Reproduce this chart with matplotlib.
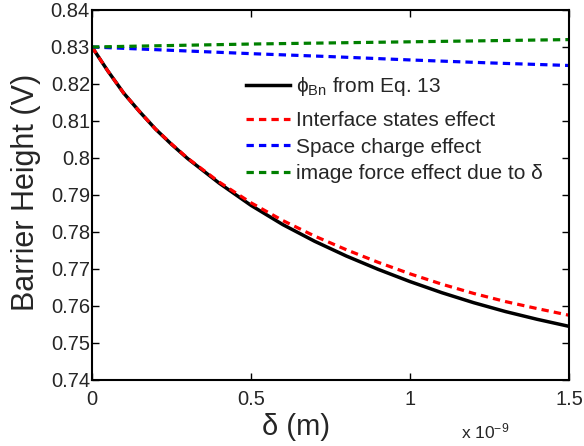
import numpy as np
import matplotlib
matplotlib.use("Agg")
import matplotlib.pyplot as plt

plt.rcParams["font.family"] = ["Liberation Sans", "DejaVu Sans"]
plt.rcParams["mathtext.fontset"] = "custom"
plt.rcParams["mathtext.rm"] = "Liberation Sans"
plt.rcParams["mathtext.it"] = "Liberation Sans:italic"

# oxide thickness in units of 1e-9 m
delta_fine = [0.0, 0.05, 0.1, 0.15, 0.2, 0.25, 0.3, 0.4, 0.5, 0.6, 0.7,
              0.8, 0.9, 1.0, 1.1, 1.2, 1.3, 1.4, 1.5]
phi_eq13 = [0.8300, 0.8235, 0.8175, 0.8125, 0.8078, 0.8037, 0.7999, 0.7932,
            0.7872, 0.7820, 0.7775, 0.7735, 0.7699, 0.7666, 0.7636, 0.7609,
            0.7585, 0.7564, 0.7545]
phi_interface = [0.8300, 0.8235, 0.8175, 0.8125, 0.8078, 0.8038, 0.8000,
                 0.7935, 0.7879, 0.7831, 0.7789, 0.7752, 0.7718, 0.7687,
                 0.7659, 0.7634, 0.7612, 0.7593, 0.7575]

delta_coarse = [0.0, 0.25, 0.5, 0.75, 1.0, 1.25, 1.5]
phi_space = [0.8300, 0.8291, 0.8282, 0.8274, 0.8265, 0.8257, 0.8250]
phi_image = [0.8300, 0.8304, 0.8308, 0.8311, 0.8314, 0.8317, 0.8320]

x_ticks = [0, 0.5, 1, 1.5]
x_tick_labels = ["0", "0.5", "1", "1.5"]
y_ticks = [0.74, 0.75, 0.76, 0.77, 0.78, 0.79, 0.80, 0.81, 0.82, 0.83, 0.84]
y_tick_labels = ["0.74", "0.75", "0.76", "0.77", "0.78", "0.79", "0.8",
                 "0.81", "0.82", "0.83", "0.84"]

text_color = "#262626"

fig = plt.figure(figsize=(5.84, 4.46), dpi=100)
ax = fig.add_axes([0.1575, 0.148, 0.8168, 0.8296])

dash = (2.3, 1.6)
(l_eq13,) = ax.plot(delta_fine, phi_eq13, color="black", lw=2.5)
(l_int,) = ax.plot(delta_fine, phi_interface, color="#ff0000", lw=2.3,
                   dashes=dash)
(l_sc,) = ax.plot(delta_coarse, phi_space, color="#0000ff", lw=2.3,
                  dashes=dash)
(l_img,) = ax.plot(delta_coarse, phi_image, color="#008000", lw=2.3,
                   dashes=dash)

ax.set_xlim(0, 1.5)
ax.set_ylim(0.74, 0.84)
ax.set_xticks(x_ticks)
ax.set_xticklabels(x_tick_labels)
ax.set_yticks(y_ticks)
ax.set_yticklabels(y_tick_labels)
ax.tick_params(direction="in", length=5, width=1, top=True, right=True,
               labelsize=14.5, colors="black", labelcolor=text_color)
ax.tick_params(axis="x", pad=7)
ax.tick_params(axis="y", pad=1.5)
for side in ax.spines.values():
    side.set_linewidth(1.5)

ax.set_xlabel("δ (m)", fontsize=21, color=text_color)
ax.xaxis.set_label_coords(0.428, -0.088, transform=ax.transAxes)
ax.get_xaxis().label.set_va("top")
ax.set_ylabel("Barrier Height (V)", fontsize=22, color=text_color)
ax.yaxis.set_label_coords(-0.107, 0.508, transform=ax.transAxes)
ax.text(0.774, -0.112, "x 10$^{-9}$", transform=ax.transAxes, ha="left",
        va="top", fontsize=12.5, color=text_color)

# the subscripted entry sits a little higher than the dashed ones
leg_kw = dict(loc="center left", frameon=False, fontsize=15,
              handlelength=2.1, handletextpad=0.3, labelspacing=0.35,
              borderaxespad=0)
leg_top = ax.legend([l_eq13], ["ϕ$_{\\mathrm{Bn}}$ from Eq. 13"],
                    bbox_to_anchor=(0.3055, 0.793), **leg_kw)
ax.add_artist(leg_top)
leg_rest = ax.legend([l_int, l_sc, l_img],
                     ["Interface states effect", "Space charge effect",
                      "image force effect due to δ"],
                     bbox_to_anchor=(0.3055, 0.629), **leg_kw)
for leg in (leg_top, leg_rest):
    for t in leg.get_texts():
        t.set_color(text_color)

fig.savefig("out.png", dpi=100)
